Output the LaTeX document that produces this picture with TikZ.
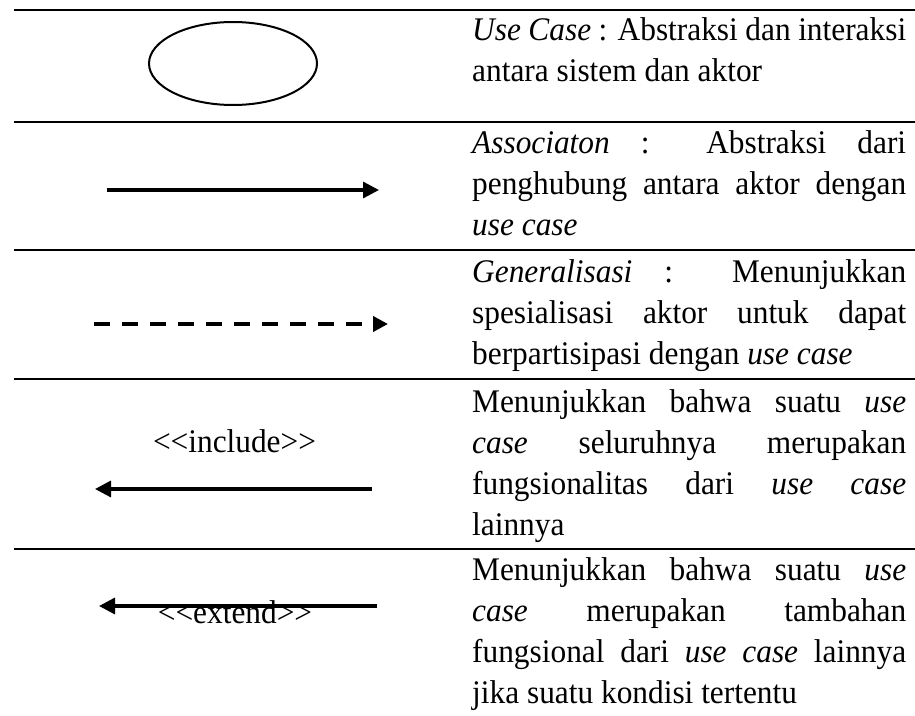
\documentclass[tikz,border=0pt]{standalone}
\usepackage{fontspec}
\setmainfont{Liberation Serif}[FakeStretch=0.95]
\usetikzlibrary{arrows.meta,shapes.geometric}
\newcommand\jline[1]{\hbox to 434pt{#1}}
\newcommand\lline[1]{\hbox{#1}}
\begin{document}
\begin{tikzpicture}[x=1pt,y=-1pt,
  rule/.style={line width=1.3pt},
  desc/.style={anchor=base west,inner sep=0pt,font=\fontsize{33}{41}\selectfont},
  lbl/.style={anchor=base,inner sep=0pt,font=\fontsize{33}{41}\selectfont},
  conn/.style={line width=3.3pt,-{Triangle[length=16pt,width=16pt]}},
  dconn/.style={line width=4pt,dash pattern=on 16pt off 12pt,-{Triangle[length=15pt,width=15pt]}}]
\useasboundingbox (0,0) rectangle (915,715);
% horizontal rules
\foreach \i/\y in {1/10,2/122,3/250,4/379,5/549}{
  \coordinate (r\i a) at (14,\y);
  \coordinate (r\i b) at (915,\y);
  \draw[rule] (r\i a) -- (r\i b);
}
% use case symbol
\node[draw,ellipse,line width=2pt,minimum width=168pt,minimum height=83pt,inner sep=0pt] (uc) at (233,63.5) {};
% association
\coordinate (as) at (107,190);
\coordinate (ae) at (379,190);
\draw[conn] (as) -- (ae);
% generalisation
\coordinate (gs) at (94,324);
\coordinate (ge) at (388,324);
\draw[dconn] (gs) -- (ge);
% include
\node[lbl] (inc) at (234.5,452) {<\kern0pt<include>\kern0pt>};
\coordinate (is) at (372,489);
\coordinate (ie) at (95,489);
\draw[conn] (is) -- (ie);
% extend
\node[lbl] (ext) at (235,623) {<\kern0pt<extend>\kern0pt>};
\coordinate (es) at (377,606);
\coordinate (ee) at (99,606);
\draw[conn] (es) -- (ee);
% descriptions
\node[desc] (d1) at (472,40) {\vtop{%
  \jline{\textit{Use Case} : Abstraksi dan interaksi}
  \lline{antara sistem dan aktor}}};
\node[desc] (d2) at (472,153) {\vtop{%
  \jline{\textit{Associaton} : Abstraksi dari}
  \jline{penghubung antara aktor dengan}
  \lline{\textit{use case}}}};
\node[desc] (d3) at (472,282) {\vtop{%
  \jline{\textit{Generalisasi} : Menunjukkan}
  \jline{spesialisasi aktor untuk dapat}
  \lline{berpartisipasi dengan \textit{use case}}}};
\node[desc] (d4) at (472,412) {\vtop{%
  \jline{Menunjukkan bahwa suatu \textit{use}}
  \jline{\textit{case} seluruhnya merupakan}
  \jline{fungsionalitas dari \textit{use} \textit{case}}
  \lline{lainnya}}};
\node[desc] (d5) at (472,580) {\vtop{%
  \jline{Menunjukkan bahwa suatu \textit{use}}
  \jline{\textit{case} merupakan tambahan}
  \jline{fungsional dari \textit{use case} lainnya}
  \lline{jika suatu kondisi tertentu}}};
\end{tikzpicture}
\end{document}
